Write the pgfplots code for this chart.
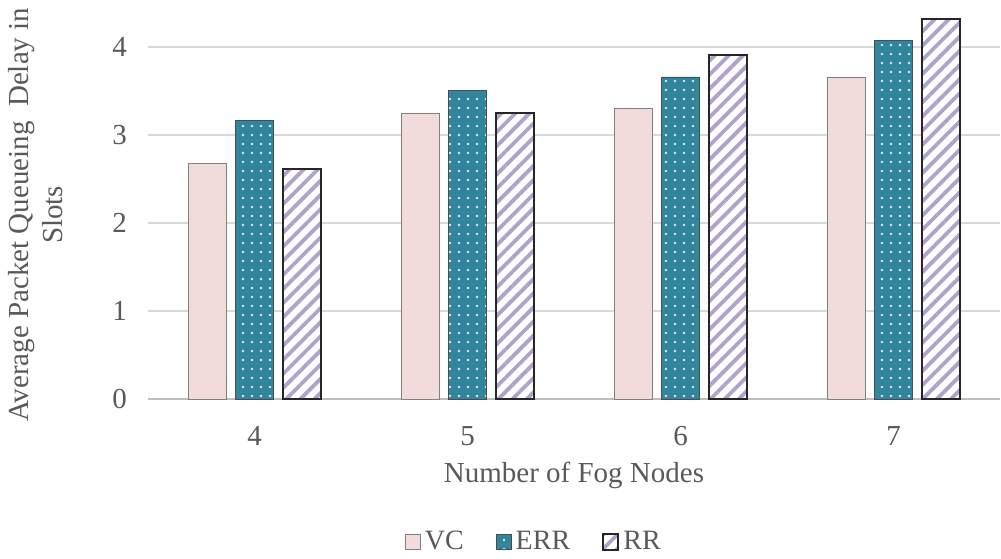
\documentclass[border=0pt]{standalone}
\usepackage{fontspec}
\setmainfont{Liberation Serif}
\usepackage{pgfplots}
\pgfplotsset{compat=1.18}
\usetikzlibrary{patterns.meta}
\definecolor{txt}{RGB}{89,89,89}
\definecolor{vcfill}{RGB}{242,220,219}
\definecolor{errfill}{RGB}{49,133,156}
\definecolor{rrline}{RGB}{178,161,204}
\definecolor{gridc}{RGB}{217,217,217}
\begin{document}
\begin{tikzpicture}
\useasboundingbox (0,0) rectangle (500.5pt,279pt);
\begin{axis}[
  at={(74pt,79.5pt)}, anchor=south west,
  scale only axis, width=426pt, height=198pt,
  ybar=4.5pt, bar width=19pt,
  xmin=3.5, xmax=7.5, ymin=0, ymax=4.5,
  xtick={4,5,6,7}, ytick={0,1,2,3,4},
  ymajorgrids, grid style={gridc, line width=0.8pt},
  axis x line*=bottom, axis y line*=left,
  x axis line style={gridc!70!gray, line width=0.8pt, -},
  y axis line style={draw=none},
  major tick length=0pt,
  /pgf/number format/assume math mode=true,
  font=\fontsize{14.5}{17}\selectfont,
  tick label style={txt, font=\fontsize{14.5}{17}\selectfont},
  xticklabel style={yshift=-10pt},
  yticklabel style={xshift=-7pt},
  xlabel={Number of Fog Nodes},
  xlabel style={txt, at={(axis description cs:0.5,-0.192)}, anchor=center},
  ylabel={Average Packet Queueing\ \ Delay in\\Slots},
  ylabel style={txt, align=center, at={(axis description cs:-0.1315,0.465)}, anchor=center, rotate=0},
  legend columns=3,
  legend style={draw=none, fill=none, text=txt, font=\fontsize{14}{16}\selectfont,
    at={(axis description cs:0.454,-0.361)}, anchor=center,
    /tikz/every even column/.append style={column sep=14pt}},
  area legend,
  legend image code/.code={\draw[#1] (0pt,-3.8pt) rectangle (7.6pt,3.8pt);},
]
\addplot[draw=gray, line width=0.4pt, fill=vcfill] coordinates {(4,2.68) (5,3.25) (6,3.30) (7,3.65)};
\addplot[draw=black!70, line width=0.4pt, fill=errfill,
  postaction={pattern={Dots[distance=4.5pt, radius=0.65pt]}, pattern color=white!85!errfill}]
  coordinates {(4,3.17) (5,3.51) (6,3.66) (7,4.07)};
\addplot[draw=black!85, line width=1pt, fill=white,
  postaction={pattern={Lines[angle=45, distance=5pt, line width=1.9pt]}, pattern color=rrline}]
  coordinates {(4,2.61) (5,3.25) (6,3.91) (7,4.32)};
\legend{VC, ERR, RR}
\end{axis}
\end{tikzpicture}
\end{document}
